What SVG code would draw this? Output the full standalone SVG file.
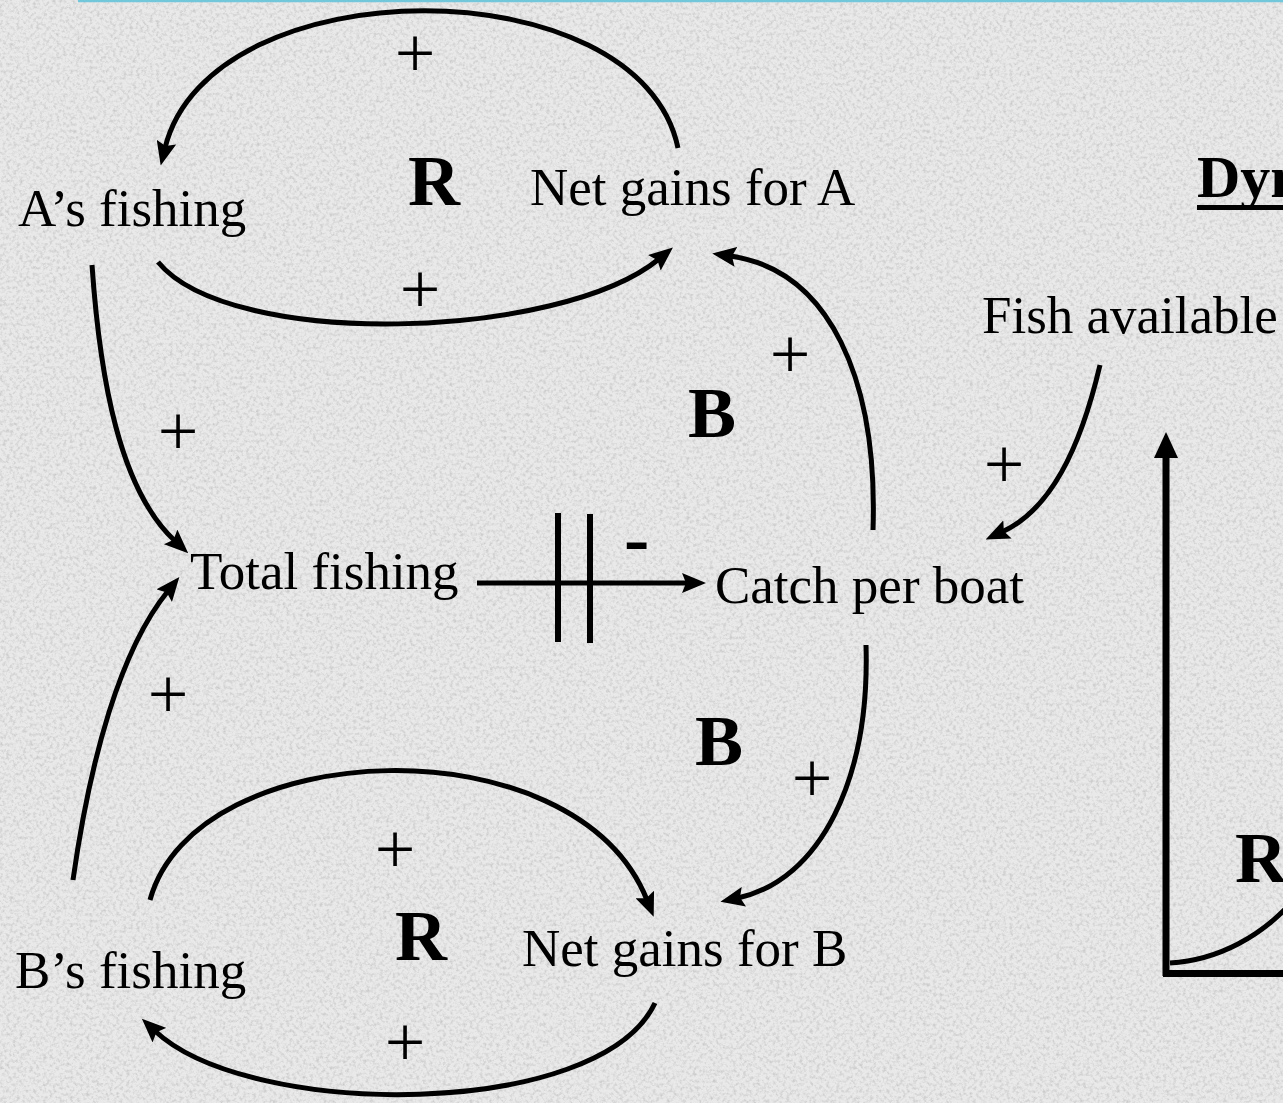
<svg xmlns="http://www.w3.org/2000/svg" width="1283" height="1103" viewBox="0 0 1283 1103">
<style>
.lbl{font-family:"Liberation Serif","Times New Roman",serif;font-size:53px;fill:#000}
.pl{font-family:"Liberation Serif","Times New Roman",serif;font-size:72px;fill:#000;text-anchor:middle}
.bd{font-family:"Liberation Serif","Times New Roman",serif;font-size:72px;font-weight:bold;fill:#000}
.cn{fill:none;stroke:#000;stroke-width:5}
</style>
<defs>
<filter id="grain" x="0" y="0" width="100%" height="100%">
<feTurbulence type="fractalNoise" baseFrequency="0.3" numOctaves="3" seed="7" result="n"/>
<feColorMatrix in="n" type="matrix" values="0 0 0 0 0.6  0 0 0 0 0.6  0 0 0 0 0.6  2.4 0 0 0 -1.05"/>
</filter>
<marker id="ah" viewBox="0 0 24 20" markerWidth="24" markerHeight="20" markerUnits="userSpaceOnUse" refX="6" refY="10" orient="auto">
<path d="M0,0 L24,10 L0,20 L4,10 z" fill="#000"/>
</marker>
<marker id="ahBig" viewBox="0 0 26 24" markerWidth="26" markerHeight="24" markerUnits="userSpaceOnUse" refX="4" refY="12" orient="auto">
<path d="M0,0 L26,12 L0,24 z" fill="#000"/>
</marker>
</defs>
<rect width="1283" height="1103" fill="#e9e9e9"/>
<rect width="1283" height="1103" filter="url(#grain)"/>
<line x1="78" y1="1" x2="1283" y2="1" stroke="#72c8da" stroke-width="2.5"/>

<g id="connectors">
<path class="cn" d="M678,148 C640,-35 210,-35 165,148" marker-end="url(#ah)"/>
<path class="cn" d="M158,262 C230,350 560,340 659,259" marker-end="url(#ah)"/>
<path class="cn" d="M873,530 C878,380 830,270 730,256" marker-end="url(#ah)"/>
<path class="cn" d="M92,265 C100,380 120,490 175,541" marker-end="url(#ah)"/>
<path class="cn" d="M73,880 C90,760 120,650 168,591" marker-end="url(#ah)"/>
<path class="cn" d="M477,583 L688,583" marker-end="url(#ah)"/>
<line x1="558" y1="513" x2="558" y2="642" stroke="#000" stroke-width="6"/>
<line x1="590" y1="514" x2="590" y2="643" stroke="#000" stroke-width="6"/>
<path class="cn" d="M866,645 C870,780 820,880 738,898" marker-end="url(#ah)"/>
<path class="cn" d="M150,900 C195,735 575,720 647,900" marker-end="url(#ah)"/>
<path class="cn" d="M655,1003 C600,1120 250,1120 155,1031" marker-end="url(#ah)"/>
<path class="cn" d="M1100,365 C1080,450 1050,510 1002,532" marker-end="url(#ah)"/>
<path d="M1166,976 L1166,454" fill="none" stroke="#000" stroke-width="7" marker-end="url(#ahBig)"/>
<line x1="1163" y1="973.5" x2="1283" y2="973.5" stroke="#000" stroke-width="7"/>
<path class="cn" d="M1170,963 C1220,960 1262,935 1292,902"/>
</g>

<g id="node-a-fishing"><text class="lbl" x="18" y="226">A’s fishing</text></g>
<g id="node-net-gains-a"><text class="lbl" x="530" y="205">Net gains for A</text></g>
<g id="node-fish-available"><text class="lbl" x="982" y="333">Fish available</text></g>
<g id="node-total-fishing"><text class="lbl" x="190" y="589">Total fishing</text></g>
<g id="node-catch-per-boat"><text class="lbl" x="715" y="603">Catch per boat</text></g>
<g id="node-net-gains-b"><text class="lbl" x="522" y="966">Net gains for B</text></g>
<g id="node-b-fishing"><text class="lbl" x="15" y="988">B’s fishing</text></g>
<g id="title"><text x="1197" y="197" style="font-family:'Liberation Serif','Times New Roman',serif;font-size:60px;font-weight:bold;fill:#000">Dyn</text>
<line x1="1197" y1="207.5" x2="1283" y2="207.5" stroke="#000" stroke-width="5"/></g>

<g id="loop-labels">
<text class="bd" x="408" y="205">R</text>
<text class="bd" x="688" y="437">B</text>
<text class="bd" x="695" y="765">B</text>
<text class="bd" x="395" y="960">R</text>
<text class="bd" x="1235" y="882">R</text>
<text x="624" y="564" style="font-family:'Liberation Serif','Times New Roman',serif;font-size:76px;font-weight:bold;fill:#000">-</text>
</g>
<g id="polarity">
<text class="pl" x="415" y="77">+</text>
<text class="pl" x="420" y="313">+</text>
<text class="pl" x="790" y="378">+</text>
<text class="pl" x="178" y="455">+</text>
<text class="pl" x="1004" y="488">+</text>
<text class="pl" x="168" y="718">+</text>
<text class="pl" x="812" y="802">+</text>
<text class="pl" x="395" y="873">+</text>
<text class="pl" x="405" y="1066">+</text>
</g>
</svg>
